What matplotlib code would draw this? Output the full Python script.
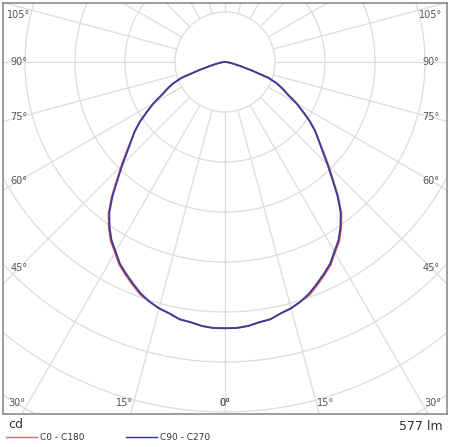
import numpy as np
import matplotlib.pyplot as plt
from matplotlib.lines import Line2D

# gamma angles (deg) and luminous intensity (cd) for each C-plane pair
gamma = [0, 2.5, 5, 7.5, 10, 12.5, 15, 17.5, 20, 22.5, 25, 27.5, 30, 32.5, 35,
		 37.5, 40, 42.5, 45, 47.5, 50, 52.5, 55, 57.5, 60, 62.5, 65, 67.5, 70,
		 72.5, 75, 77.5, 80, 85, 90, 180]
i_c0_c180 = [213, 213, 212, 210, 209, 206, 204, 201, 198, 193, 188, 183, 176, 170, 162,
			 153, 141, 128, 117, 107, 98, 91, 83, 74, 66, 57, 51, 45, 37,
			 22, 13, 8, 5, 2, 0, 0]
i_c90_c270 = [213, 213, 212, 210, 209, 206, 204, 201, 197, 192, 187, 182, 175, 169, 161,
			  152, 140, 127, 116, 106, 98, 91, 83, 74, 66, 57, 51, 45, 37,
			  22, 13, 8, 5, 2, 0, 0]

ring_values = [40, 80, 120, 160, 200, 240, 280, 320]
spoke_angles = list(range(0, 360, 15))
label_angles = [0, 15, 30, 45, 60, 75, 90, 105]
flux_text = '577 lm'
unit_text = 'cd'

W, H = 451, 447
fig = plt.figure(figsize=(W / 100, H / 100), dpi=100)

# plot box in pixels: x 3..447, y 3..414, pole at (225, 62); 50 px per 40 cd
px = 0.8
ax = fig.add_axes([3 / W, (H - 414) / H, 444 / W, 411 / H])
ax.set_xlim((3 - 225) * px, (447 - 225) * px)
ax.set_ylim((62 - 414) * px, (62 - 3) * px)
ax.set_xticks([])
ax.set_yticks([])
for s in ax.spines.values():
	s.set_color('#8c8c8c')
	s.set_linewidth(1.2)

grid_kw = dict(color='#dcdcdc', linewidth=0.9, zorder=1)

# rings
t = np.linspace(0, 2 * np.pi, 400)
for r in ring_values:
	ax.plot(r * np.sin(t), -r * np.cos(t), **grid_kw)

# spokes, starting at the first ring
for a in spoke_angles:
	rad = np.radians(a)
	ax.plot([ring_values[0] * np.sin(rad), 600 * np.sin(rad)],
			[-ring_values[0] * np.cos(rad), -600 * np.cos(rad)], **grid_kw)

# angle labels: on the side edges, or along the bottom edge
x_edge = (225 - 19) * px      # label centre distance from pole, sides
y_top = (62 - 15) * px
y_bot = (62 - 403) * px
box_half = 222 * px
box_bot = (414 - 62) * px
for a in label_angles:
	rad = np.radians(a)
	for side in (-1, 1):
		hits_side = np.sin(rad) * box_bot > box_half * np.cos(rad)
		if hits_side:
			x = side * x_edge
			y = -x_edge / np.tan(rad) if abs(np.tan(rad)) > 1e-9 else 0
			y = min(max(y, y_bot), y_top)
		else:
			x = box_bot * np.tan(rad)
			if x > 0.5:
				x += 6 * px
			x = side * min(x, (225 - 17) * px)
			y = y_bot
		ax.text(x, y, f'{a}°', fontsize=7, color='#555555',
				ha='center', va='center', zorder=3)

# intensity curves: right half C0 / C90, left half C180 / C270
g = np.radians(np.array(gamma, dtype=float))
for vals, color in ((i_c0_c180, '#d9534f'), (i_c90_c270, '#3b3ba0')):
	r = np.array(vals, dtype=float)
	xs = np.concatenate([-r[::-1] * np.sin(g[::-1]), r[1:] * np.sin(g[1:])])
	ys = np.concatenate([-r[::-1] * np.cos(g[::-1]), -r[1:] * np.cos(g[1:])])
	ax.plot(xs, ys, color=color, linewidth=1.3, zorder=4,
			solid_joinstyle='round')

fig.text(8 / W, 1 - 424 / H, unit_text, fontsize=9, color='#333333', va='center')
fig.text(443 / W, 1 - 427 / H, flux_text, fontsize=9, color='#333333',
		 va='center', ha='right')

handles = [Line2D([], [], color='#e06a6a', linewidth=1),
		   Line2D([], [], color='#3232b0', linewidth=1)]
fig.legend(handles, ['C0 - C180', 'C90 - C270'], loc='lower left',
		   bbox_to_anchor=(-2 / W, -3 / H), ncol=2, frameon=False, fontsize=6.5,
		   handlelength=3.4, handletextpad=0.3, columnspacing=4.7,
		   labelcolor='#333333')

fig.savefig('out.png', dpi=100)
